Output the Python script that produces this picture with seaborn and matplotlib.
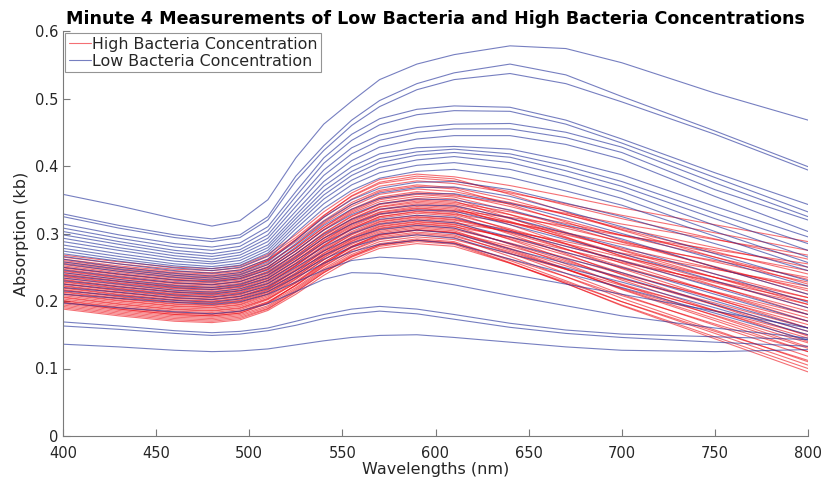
import matplotlib
matplotlib.use("Agg")
import matplotlib.pyplot as plt
from matplotlib.lines import Line2D
import pandas as pd
import seaborn as sns

# Sampling wavelengths (nm) shared by every spectrum
wavelengths = [400, 430, 460, 480, 495, 510, 525, 540, 555, 570,
               590, 610, 640, 670, 700, 750, 800]

# Minute-4 absorption spectra, high bacteria concentration samples
high_curves = [
    [.268, .258, .250, .248, .252, .269, .298, .332, .360, .380, .388, .384, .371, .355, .338, .313, .288],
    [.265, .255, .247, .245, .249, .266, .294, .327, .355, .374, .382, .378, .362, .342, .322, .292, .262],
    [.262, .252, .244, .242, .246, .262, .291, .324, .351, .370, .378, .374, .360, .344, .327, .301, .275],
    [.260, .250, .242, .240, .244, .260, .288, .319, .346, .364, .372, .368, .350, .328, .306, .273, .240],
    [.258, .248, .240, .238, .242, .260, .291, .326, .356, .376, .385, .381, .358, .332, .305, .265, .225],
    [.256, .246, .238, .236, .240, .256, .283, .314, .340, .358, .366, .362, .346, .328, .308, .279, .250],
    [.254, .244, .236, .234, .238, .254, .283, .316, .343, .362, .370, .366, .343, .317, .290, .250, .210],
    [.252, .242, .234, .232, .236, .251, .278, .309, .334, .352, .360, .356, .344, .330, .314, .291, .268],
    [.250, .240, .232, .230, .234, .250, .278, .309, .336, .354, .362, .358, .340, .319, .297, .265, .232],
    [.249, .239, .231, .229, .233, .248, .274, .305, .330, .347, .355, .351, .328, .302, .275, .235, .195],
    [.247, .237, .229, .227, .231, .247, .274, .306, .332, .350, .358, .354, .334, .311, .287, .251, .215],
    [.245, .235, .227, .225, .229, .244, .270, .300, .325, .343, .350, .346, .332, .315, .298, .271, .245],
    [.244, .234, .226, .224, .228, .243, .270, .301, .326, .344, .352, .348, .323, .295, .266, .223, .180],
    [.242, .232, .224, .222, .226, .241, .267, .296, .321, .339, .346, .342, .322, .300, .276, .240, .205],
    [.240, .230, .222, .220, .224, .239, .266, .297, .322, .340, .348, .344, .328, .308, .288, .258, .228],
    [.239, .229, .221, .219, .223, .238, .263, .293, .317, .335, .342, .338, .313, .285, .256, .213, .170],
    [.237, .227, .219, .217, .221, .236, .263, .293, .319, .336, .344, .340, .318, .293, .267, .229, .190],
    [.236, .226, .218, .216, .220, .234, .260, .289, .314, .331, .338, .334, .324, .311, .297, .276, .255],
    [.234, .224, .216, .214, .218, .233, .259, .290, .315, .332, .340, .336, .316, .294, .270, .235, .200],
    [.232, .222, .214, .212, .216, .231, .256, .286, .310, .328, .335, .331, .305, .277, .248, .204, .160],
    [.231, .221, .213, .211, .215, .230, .256, .287, .312, .329, .337, .333, .317, .298, .278, .248, .218],
    [.229, .219, .211, .209, .213, .228, .253, .283, .307, .325, .332, .328, .307, .284, .259, .222, .185],
    [.228, .218, .210, .208, .212, .226, .252, .281, .306, .323, .330, .326, .299, .270, .239, .194, .148],
    [.226, .216, .208, .206, .210, .225, .252, .282, .308, .325, .333, .329, .316, .301, .284, .260, .235],
    [.225, .215, .207, .205, .209, .223, .249, .278, .303, .320, .327, .323, .301, .277, .251, .213, .175],
    [.223, .213, .205, .203, .207, .221, .247, .276, .301, .318, .325, .321, .305, .285, .265, .235, .205],
    [.222, .212, .204, .202, .206, .220, .245, .274, .298, .315, .322, .318, .291, .262, .231, .186, .140],
    [.220, .210, .202, .200, .204, .219, .245, .274, .299, .317, .324, .320, .302, .281, .260, .227, .195],
    [.219, .209, .201, .199, .203, .217, .242, .270, .294, .311, .318, .314, .292, .268, .242, .203, .165],
    [.217, .207, .199, .197, .201, .216, .241, .271, .295, .313, .320, .316, .303, .288, .271, .247, .222],
    [.216, .206, .198, .196, .200, .214, .239, .267, .291, .308, .315, .311, .284, .255, .224, .178, .132],
    [.214, .204, .196, .194, .198, .213, .238, .268, .292, .310, .317, .313, .294, .272, .249, .214, .180],
    [.213, .203, .195, .193, .197, .211, .236, .264, .288, .305, .312, .308, .285, .260, .234, .194, .155],
    [.211, .201, .193, .191, .195, .210, .235, .265, .289, .307, .314, .310, .295, .276, .257, .229, .200],
    [.210, .200, .192, .190, .194, .208, .233, .261, .284, .301, .308, .304, .277, .248, .217, .171, .125],
    [.208, .198, .190, .188, .192, .206, .232, .261, .286, .303, .310, .306, .286, .264, .240, .205, .170],
    [.206, .196, .188, .186, .190, .204, .229, .257, .281, .298, .305, .301, .278, .252, .225, .185, .145],
    [.205, .195, .187, .185, .189, .203, .227, .255, .279, .295, .302, .298, .271, .241, .210, .164, .118],
    [.203, .193, .185, .183, .187, .202, .227, .257, .281, .299, .306, .302, .281, .258, .233, .197, .160],
    [.201, .191, .183, .181, .185, .199, .223, .251, .275, .291, .298, .294, .266, .236, .204, .157, .110],
    [.200, .190, .182, .180, .184, .198, .223, .252, .276, .293, .300, .296, .273, .247, .219, .179, .138],
    [.198, .188, .180, .178, .182, .196, .220, .248, .272, .288, .295, .291, .270, .247, .223, .186, .150],
    [.196, .186, .178, .176, .180, .193, .218, .246, .269, .285, .292, .288, .260, .230, .199, .152, .105],
    [.194, .184, .176, .174, .178, .191, .216, .244, .267, .283, .290, .286, .262, .236, .208, .166, .125],
    [.192, .182, .174, .172, .176, .189, .214, .242, .265, .281, .288, .284, .256, .226, .194, .147, .100],
    [.190, .180, .172, .170, .174, .188, .213, .242, .266, .283, .290, .286, .257, .226, .193, .144, .095],
    [.188, .178, .170, .168, .172, .186, .210, .238, .262, .278, .285, .281, .256, .228, .199, .155, .112],
    [.198, .188, .180, .178, .182, .197, .224, .254, .280, .297, .305, .301, .275, .247, .218, .174, .130],
]

# Minute-4 absorption spectra, low bacteria concentration samples
low_curves = [
    [.358, .341, .322, .311, .319, .350, .412, .462, .496, .528, .551, .565, .578, .574, .553, .508, .468],
    [.329, .312, .298, .292, .298, .325, .385, .430, .468, .497, .522, .538, .551, .535, .503, .452, .399],
    [.325, .308, .294, .288, .294, .320, .378, .423, .460, .488, .513, .528, .537, .522, .495, .447, .394],
    [.314, .298, .285, .280, .286, .310, .362, .412, .447, .470, .484, .489, .487, .468, .440, .390, .343],
    [.308, .293, .280, .275, .281, .304, .355, .404, .438, .461, .476, .482, .481, .462, .434, .383, .332],
    [.303, .288, .275, .270, .276, .298, .347, .394, .427, .446, .457, .462, .463, .450, .428, .375, .325],
    [.298, .284, .271, .266, .272, .293, .340, .386, .418, .438, .450, .455, .455, .442, .420, .365, .320],
    [.293, .279, .267, .262, .268, .288, .333, .377, .408, .428, .440, .445, .445, .432, .410, .355, .303],
    [.288, .275, .263, .258, .264, .283, .327, .370, .399, .418, .427, .429, .425, .408, .387, .340, .295],
    [.283, .270, .259, .255, .260, .279, .322, .363, .392, .411, .421, .425, .418, .400, .377, .330, .285],
    [.278, .266, .255, .251, .256, .275, .317, .357, .386, .405, .416, .420, .413, .393, .370, .322, .275],
    [.274, .262, .252, .248, .253, .271, .312, .351, .379, .398, .409, .414, .405, .385, .362, .312, .265],
    [.270, .259, .249, .245, .250, .267, .307, .344, .372, .390, .401, .405, .395, .375, .352, .303, .257],
    [.266, .255, .245, .241, .246, .262, .301, .337, .364, .382, .392, .395, .383, .363, .342, .296, .250],
    [.262, .250, .241, .237, .242, .258, .290, .324, .350, .367, .376, .377, .365, .345, .325, .285, .245],
    [.258, .247, .238, .234, .239, .254, .285, .318, .343, .360, .368, .369, .355, .333, .310, .270, .230],
    [.255, .244, .235, .231, .236, .250, .280, .312, .336, .352, .359, .359, .345, .323, .300, .262, .222],
    [.250, .240, .231, .228, .233, .246, .275, .305, .328, .344, .351, .350, .335, .313, .292, .250, .210],
    [.246, .236, .227, .224, .229, .242, .270, .299, .321, .336, .342, .341, .323, .301, .280, .240, .198],
    [.242, .232, .223, .220, .225, .238, .265, .293, .314, .329, .335, .333, .313, .291, .270, .230, .190],
    [.238, .229, .220, .217, .222, .234, .260, .286, .306, .321, .327, .324, .303, .281, .260, .220, .180],
    [.234, .225, .216, .213, .218, .230, .255, .280, .300, .314, .320, .316, .295, .272, .250, .210, .170],
    [.230, .221, .213, .210, .215, .226, .250, .274, .293, .306, .312, .308, .285, .263, .242, .200, .160],
    [.225, .217, .209, .206, .211, .222, .245, .268, .286, .299, .305, .300, .277, .256, .235, .195, .155],
    [.220, .213, .205, .202, .207, .218, .240, .262, .280, .292, .298, .293, .270, .249, .228, .190, .150],
    [.215, .208, .201, .198, .203, .214, .235, .256, .273, .284, .290, .285, .262, .241, .220, .182, .142],
    [.210, .204, .198, .195, .199, .210, .228, .246, .260, .265, .262, .254, .240, .225, .210, .185, .160],
    [.197, .190, .184, .181, .185, .196, .214, .232, .242, .241, .233, .224, .208, .193, .178, .160, .145],
    [.169, .163, .156, .153, .155, .160, .170, .180, .188, .192, .188, .180, .167, .157, .151, .147, .143],
    [.163, .158, .152, .149, .151, .156, .164, .174, .181, .185, .181, .173, .161, .152, .146, .139, .133],
    [.136, .132, .127, .125, .126, .129, .135, .141, .146, .149, .150, .146, .139, .132, .127, .125, .128],
]

group_labels = ["High Bacteria Concentration", "Low Bacteria Concentration"]
x_ticks = [400, 450, 500, 550, 600, 650, 700, 750, 800]
y_ticks = [0, 0.1, 0.2, 0.3, 0.4, 0.5, 0.6]
y_tick_labels = ["0", "0.1", "0.2", "0.3", "0.4", "0.5", "0.6"]


def to_long(curves, label, offset):
    rows = []
    for i, curve in enumerate(curves):
        for w, v in zip(wavelengths, curve):
            rows.append({"sample": offset + i, "wavelength": w,
                         "absorption": v, "group": label})
    return pd.DataFrame(rows)


df_high = to_long(high_curves, group_labels[0], 0)
df_low = to_long(low_curves, group_labels[1], 1000)

sns.set_theme(style="ticks")
plt.rcParams["font.family"] = ["DejaVu Sans"]

red = "#ee1018"
blue = "#22309a"
axis_grey = "#7a7a7a"
text_dark = "#262626"

fig = plt.figure(figsize=(8.27, 4.87), dpi=100)
ax = fig.add_axes([63 / 827, 51 / 487, 745 / 827, 405 / 487])

sns.lineplot(data=df_high, x="wavelength", y="absorption", units="sample",
             estimator=None, color=red, alpha=0.6, lw=0.8, legend=False, ax=ax)
sns.lineplot(data=df_low, x="wavelength", y="absorption", units="sample",
             estimator=None, color=blue, alpha=0.62, lw=0.8, legend=False, ax=ax)

ax.set_xlim(400, 800)
ax.set_ylim(0, 0.6)
ax.set_xticks(x_ticks)
ax.set_yticks(y_ticks)
ax.set_yticklabels(y_tick_labels)

for side in ("top", "right"):
    ax.spines[side].set_visible(False)
for side in ("left", "bottom"):
    ax.spines[side].set_color(axis_grey)
    ax.spines[side].set_linewidth(0.8)
ax.tick_params(direction="in", length=5, width=0.8, color=axis_grey,
               labelsize=10.5, labelcolor=text_dark)
ax.tick_params(axis="x", pad=7.5)
ax.tick_params(axis="y", pad=3)

ax.set_xlabel("Wavelengths (nm)", fontsize=11.5, color=text_dark, labelpad=0.5)
ax.set_ylabel("Absorption (kb)", fontsize=11.5, color=text_dark, labelpad=4.5)
ax.set_title("Minute 4 Measurements of Low Bacteria and High Bacteria Concentrations",
             fontsize=12.6, fontweight="bold", color="black", pad=5)

handles = [Line2D([], [], color=red, alpha=0.6, lw=0.8),
           Line2D([], [], color=blue, alpha=0.62, lw=0.8)]
leg = ax.legend(handles, group_labels, loc="upper left", fontsize=11.4,
                frameon=True, fancybox=False, borderpad=0.2, labelspacing=0.15,
                handlelength=1.4, handletextpad=0.1, borderaxespad=0.15)
leg.get_frame().set_edgecolor(axis_grey)
leg.get_frame().set_linewidth(0.8)
for t in leg.get_texts():
    t.set_color(text_dark)

fig.savefig("out.png", dpi=100)
